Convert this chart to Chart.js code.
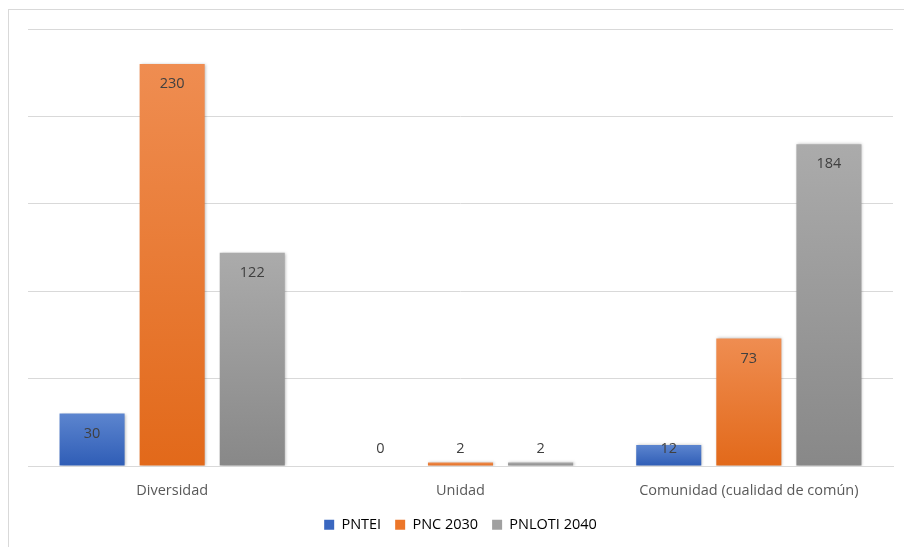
<!DOCTYPE html>
<html>
<head>
<meta charset="utf-8">
<script src="https://cdn.jsdelivr.net/npm/chart.js@4/dist/chart.umd.min.js"></script>
<style>
  html, body { margin: 0; padding: 0; background: #fff; overflow: hidden; }
  #frame { position: absolute; left: 8px; top: 9px; width: 920px; height: 560px; border: 1px solid #d9d9d9; }
  #wrap { position: absolute; left: 0; top: 0; width: 904px; height: 547px; }
</style>
</head>
<body>
<div id="frame"></div>
<div id="wrap"><canvas id="c"></canvas></div>
<script>
/* ---- datos ---- */
const categories = ['Diversidad', 'Unidad', 'Comunidad (cualidad de común)'];
const seriesNames = ['PNTEI', 'PNC 2030', 'PNLOTI 2040'];
const pntei = [30, 0, 12];
const pnc2030 = [230, 2, 73];
const pnloti2040 = [122, 2, 184];

// colores: [arriba, abajo, leyenda]
const COLS = [
  ['#5c85cf', '#2f5db6', '#3a67c0'],
  ['#ef8d51', '#e2691a', '#ec7629'],
  ['#ababab', '#888888', '#a0a0a0'],
];
const FONT = '"Open Sans", sans-serif';

function grad(i) {
  return c => {
    const ch = c.chart, a = ch.chartArea;
    if (!a || c.raw == null) return COLS[i][2];
    const ys = ch.scales.y;
    const top = ys.getPixelForValue(c.raw), base = ys.getPixelForValue(0);
    const g = ch.ctx.createLinearGradient(0, top, 0, Math.max(base, top + 1));
    g.addColorStop(0, COLS[i][0]);
    g.addColorStop(1, COLS[i][1]);
    return g;
  };
}

// sombra suave de las barras
const shadow = {
  id: 'barShadow',
  beforeDatasetsDraw(c) {
    const x = c.ctx; x.save();
    x.shadowColor = 'rgba(0,0,0,0.28)'; x.shadowBlur = 3; x.shadowOffsetX = 1; x.shadowOffsetY = 0;
  },
  afterDatasetsDraw(c) { c.ctx.restore(); },
};

// etiquetas de valor (extremo interior, como en Excel)
const valueLabels = {
  id: 'vals',
  afterDraw(c) {
    const { ctx } = c;
    const base = c.scales.y.getPixelForValue(0);
    ctx.save();
    ctx.font = '14.5px ' + FONT;
    ctx.fillStyle = '#404040'; ctx.textAlign = 'center'; ctx.textBaseline = 'middle';
    c.data.datasets.forEach((ds, di) => {
      c.getDatasetMeta(di).data.forEach((bar, i) => {
        const y = Math.min(bar.y + 20, base - 17);
        ctx.fillText(String(ds.data[i]), bar.x, y);
      });
    });
    ctx.restore();
  },
};

new Chart(document.getElementById('c'), {
  type: 'bar',
  data: {
    labels: categories,
    datasets: [
      { label: seriesNames[0], data: pntei, backgroundColor: grad(0) },
      { label: seriesNames[1], data: pnc2030, backgroundColor: grad(1) },
      { label: seriesNames[2], data: pnloti2040, backgroundColor: grad(2) },
    ].map(d => Object.assign(d, { categoryPercentage: 0.8333, barPercentage: 0.8125, borderWidth: 0 })),
  },
  options: {
    responsive: true, maintainAspectRatio: false, animation: false,
    layout: { padding: { left: 28, right: 11, top: 29, bottom: 5 } },
    plugins: {
      tooltip: { enabled: false },
      legend: {
        position: 'bottom',
        labels: {
          boxWidth: 10, boxHeight: 10, padding: 14, color: '#595959',
          font: { family: FONT, size: 14.5 },
          generateLabels: ch => seriesNames.map((n, i) => ({
            text: n, fillStyle: COLS[i][2], strokeStyle: COLS[i][2], lineWidth: 0, datasetIndex: i,
          })),
        },
      },
    },
    scales: {
      x: {
        grid: { display: false, drawTicks: false },
        border: { display: true, color: '#d9d9d9' },
        ticks: { color: '#595959', padding: 16, font: { family: FONT, size: 14.5 } },
        afterFit: s => { s.height = 37.5; },
      },
      y: {
        min: 0, max: 250,
        ticks: { display: false, stepSize: 50 },
        grid: { color: '#d9d9d9', drawTicks: false },
        border: { display: false },
      },
    },
  },
  plugins: [shadow, valueLabels],
});
</script>
</body>
</html>
